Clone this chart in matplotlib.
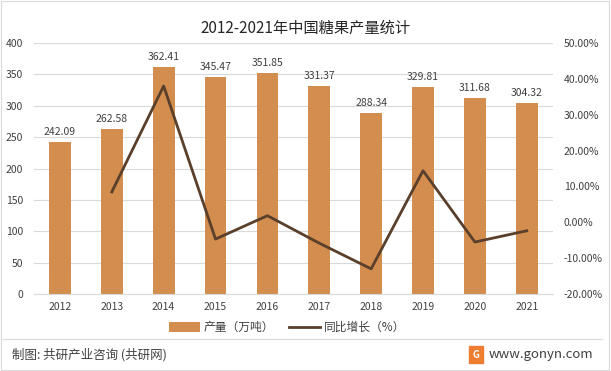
import matplotlib
matplotlib.use('Agg')
from matplotlib import pyplot as plt
from matplotlib.patches import Rectangle
from matplotlib.ticker import FuncFormatter

plt.rcParams['font.family'] = ['Noto Sans CJK SC', 'DejaVu Sans']

# 数据
years = ['2012', '2013', '2014', '2015', '2016', '2017', '2018', '2019', '2020', '2021']
output = [242.09, 262.58, 362.41, 345.47, 351.85, 331.37, 288.34, 329.81, 311.68, 304.32]
growth = [None, 8.46, 38.02, -4.68, 1.85, -5.82, -12.98, 14.39, -5.50, -2.36]

bar_color = '#D38D4F'
line_color = '#5A3F2B'
text_color = '#404040'

fig = plt.figure(figsize=(6.11, 3.71), dpi=100)
ax = fig.add_axes([0.0556, 0.2075, 0.849, 0.6765])

x = list(range(len(years)))
ax.bar(x, output, width=0.42, color=bar_color, zorder=2, label='产量（万吨）')
for xi, v in zip(x, output):
    ax.text(xi, v + 8, f'{v:.2f}', ha='center', va='bottom', fontsize=7.5, color=text_color)

ax.set_xlim(-0.5, len(years) - 0.5)
ax.set_ylim(0, 400)
ax.set_yticks(range(0, 401, 50))
ax.set_xticks(x)
ax.set_xticklabels(years)
ax.grid(axis='y', color='#D9D9D9', linewidth=0.8, zorder=0)
for s in ['top', 'right', 'left']:
    ax.spines[s].set_visible(False)
ax.spines['bottom'].set_color('#D9D9D9')
ax.tick_params(axis='both', length=0, labelsize=7.5, colors=text_color)
ax.tick_params(axis='y', pad=8)
ax.tick_params(axis='x', pad=6)

ax2 = ax.twinx()
gx = [xi for xi, g in zip(x, growth) if g is not None]
gy = [g for g in growth if g is not None]
ax2.plot(gx, gy, color=line_color, linewidth=2, zorder=3, label='同比增长（%）')
ax2.set_ylim(-20, 50)
ax2.set_yticks(range(-20, 51, 10))
ax2.yaxis.set_major_formatter(FuncFormatter(lambda v, p: f'{v:.2f}%'))
for s in ['top', 'right', 'left', 'bottom']:
    ax2.spines[s].set_visible(False)
ax2.tick_params(axis='y', length=0, labelsize=7.5, colors=text_color, pad=8)

fig.text(0.5, 0.925, '2012-2021年中国糖果产量统计', ha='center', va='center',
         fontsize=11, color='#262626')

# 图例
h1, l1 = ax.get_legend_handles_labels()
h2, l2 = ax2.get_legend_handles_labels()
fig.legend(h1 + h2, l1 + l2, loc='center', bbox_to_anchor=(0.47, 0.117), ncol=2,
           frameon=False, fontsize=8.5, handlelength=2.6, handleheight=0.8,
           handletextpad=0.3, columnspacing=1.3, labelcolor=text_color)

# 页脚
fig.add_artist(plt.Line2D([0.005, 0.985], [0.085, 0.085], color='#D9D9D9', linewidth=0.8))
fig.text(0.02, 0.045, '制图: 共研产业咨询 (共研网)', ha='left', va='center',
         fontsize=9, color='#404040', weight='medium')
fig.add_artist(Rectangle((0.768, 0.022), 0.022, 0.045, color='#EE7D31'))
fig.text(0.779, 0.044, 'G', ha='center', va='center', fontsize=7, color='white', weight='bold')
fig.text(0.80, 0.045, 'www.gonyn.com', ha='left', va='center', fontsize=9.5, color='#404040')

fig.add_artist(Rectangle((0.002, 0.003), 0.995, 0.994, fill=False, edgecolor='#D9D9D9',
                         linewidth=0.8, transform=fig.transFigure))

plt.savefig('out.png', dpi=100)
